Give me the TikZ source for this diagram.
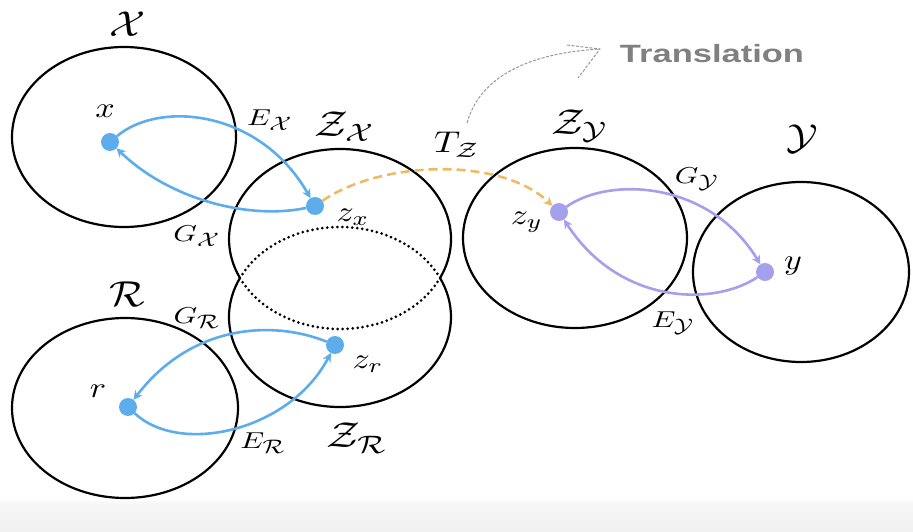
\documentclass[tikz,border=0pt]{standalone}
\usepackage{graphicx}
\usepackage{fontspec}
\newfontfamily\transfont{Liberation Sans}
\usetikzlibrary{arrows.meta}
\definecolor{myblue}{RGB}{93,173,236}
\definecolor{mypurple}{RGB}{165,160,235}
\definecolor{myorange}{RGB}{240,185,100}
\definecolor{mygray}{RGB}{128,128,128}
\newcommand{\LabBig}[1]{\scalebox{4.2}[3.6]{$#1$}}
\newcommand{\LabMid}[1]{\scalebox{3.0}[2.3]{$#1$}}
\newcommand{\LabSmall}[1]{\scalebox{3.4}[2.9]{$#1$}}
\newcommand{\SubCal}[1]{_{\scalebox{0.85}{$\mathcal{#1}$}}}
\tikzset{
  ell/.style={draw=black, line width=2.2pt},
  hidden/.style={draw=black, line width=3pt, line cap=round, dash pattern=on 0pt off 5pt},
  dotb/.style={circle, fill=myblue, minimum size=18pt, inner sep=0pt, outer sep=0pt},
  dotp/.style={circle, fill=mypurple, minimum size=18pt, inner sep=0pt, outer sep=0pt},
  arrb/.style={draw=myblue, line width=2.6pt, -{Stealth[length=9pt,width=9pt]}},
  arrp/.style={draw=mypurple, line width=2.6pt, -{Stealth[length=9pt,width=9pt]}},
  arro/.style={draw=myorange, line width=2.6pt, dash pattern=on 9pt off 5pt, -{Stealth[length=9pt,width=9pt]}},
  note/.style={draw=mygray!80, line width=1pt, dash pattern=on 3pt off 1.5pt},
  lab/.style={font=\fontsize{10}{12}\selectfont, inner sep=0pt},
}
\begin{document}
\begin{tikzpicture}[x=1pt,y=1pt]
\useasboundingbox (0,0) rectangle (913,531);
\shade[top color=gray!5, bottom color=gray!12] (0,0) rectangle (913,30);

% ellipses
\draw[ell] (124,394) ellipse [x radius=112pt, y radius=90pt];
\draw[ell] (125,123) ellipse [x radius=113pt, y radius=90pt];
\draw[ell] (575,293) ellipse [x radius=112pt, y radius=90pt];
\draw[ell] (801,259) ellipse [x radius=108pt, y radius=90pt];
% Z_X and Z_R overlapping
\coordinate (zxc) at (340,292);
\coordinate (zrc) at (340,214);
\draw[ell] ([shift={(-25.68:111pt and 90pt)}]zxc) arc[start angle=-25.68, end angle=205.68, x radius=111pt, y radius=90pt];
\draw[hidden] ([shift={(205.68:111pt and 90pt)}]zxc) arc[start angle=205.68, end angle=334.32, x radius=111pt, y radius=90pt];
\draw[ell] ([shift={(154.32:111pt and 90pt)}]zrc) arc[start angle=154.32, end angle=385.68, x radius=111pt, y radius=90pt];
\draw[hidden] ([shift={(25.68:111pt and 90pt)}]zrc) arc[start angle=25.68, end angle=154.32, x radius=111pt, y radius=90pt];

% points
\node[dotb] (x) at (110,389) {};
\node[dotb] (zx) at (315,325) {};
\node[dotb] (r) at (128,124) {};
\node[dotb] (zr) at (335,186) {};
\node[dotp] (zy) at (559,319) {};
\node[dotp] (y) at (765,259) {};

% connectors
\draw[arrb] (x) .. controls (160,431) and (260,421) .. (zx);
\draw[arrb] (zx) .. controls (250,311) and (170,331) .. (x);
\draw[arrb] (r) .. controls (180,75) and (290,100) .. (zr);
\draw[arrb] (zr) .. controls (270,212) and (190,205) .. (r);
\draw[arrp] (zy) .. controls (610,355) and (710,350) .. (y);
\draw[arrp] (y) .. controls (715,225) and (620,225) .. (zy);
\draw[arro] (zx) .. controls (380,370) and (500,375) .. (zy);

% labels
\node[lab] (lX) at (128,507) {\LabBig{\mathcal{X}}};
\node[lab] (lZX) at (345,404) {\LabBig{\mathcal{Z}_{\mathcal{X}}}};
\node[lab] (lZY) at (580,405) {\LabBig{\mathcal{Z}_{\mathcal{Y}}}};
\node[lab] (lY) at (802,392) {\LabBig{\mathcal{Y}}};
\node[lab] (lR) at (127,237) {\LabBig{\mathcal{R}}};
\node[lab] (lZR) at (357,93) {\LabBig{\mathcal{Z}_{\mathcal{R}}}};
\node[lab] (lEX) at (270,411) {\LabMid{E\SubCal{X}}};
\node[lab] (lGX) at (197,295) {\LabMid{G\SubCal{X}}};
\node[lab] (lTZ) at (457,386) {\scalebox{3.6}[3.0]{$T_{\mathcal{Z}}$}};
\node[lab] (lGY) at (697,352) {\LabMid{G\SubCal{Y}}};
\node[lab] (lEY) at (673,208) {\LabMid{E\SubCal{Y}}};
\node[lab] (lGR) at (197,213) {\LabMid{G\SubCal{R}}};
\node[lab] (lER) at (263,88) {\LabMid{E\SubCal{R}}};
\node[lab] (lx) at (105,420) {\LabSmall{x}};
\node[lab] (lzx) at (353,314) {\LabSmall{z_x}};
\node[lab] (lzy) at (527,309) {\LabSmall{z_y}};
\node[lab] (ly) at (793,265) {\LabSmall{y}};
\node[lab] (lr) at (98,140) {\LabSmall{r}};
\node[lab] (lzr) at (368,167) {\LabSmall{z_r}};
\node[font=\transfont\bfseries\fontsize{25}{27}\selectfont, text=mygray, inner sep=0pt] (trans) at (712,477) {\scalebox{1.38}[1]{Translation}};

% translation note arrow
\coordinate (ts) at (467,408);
\coordinate (tp) at (600,482);
\draw[note] (ts) .. controls (480,455) and (530,478) .. (tp);
\draw[note, line join=round] (567,486) -- (tp) -- (578,453);
\end{tikzpicture}
\end{document}
